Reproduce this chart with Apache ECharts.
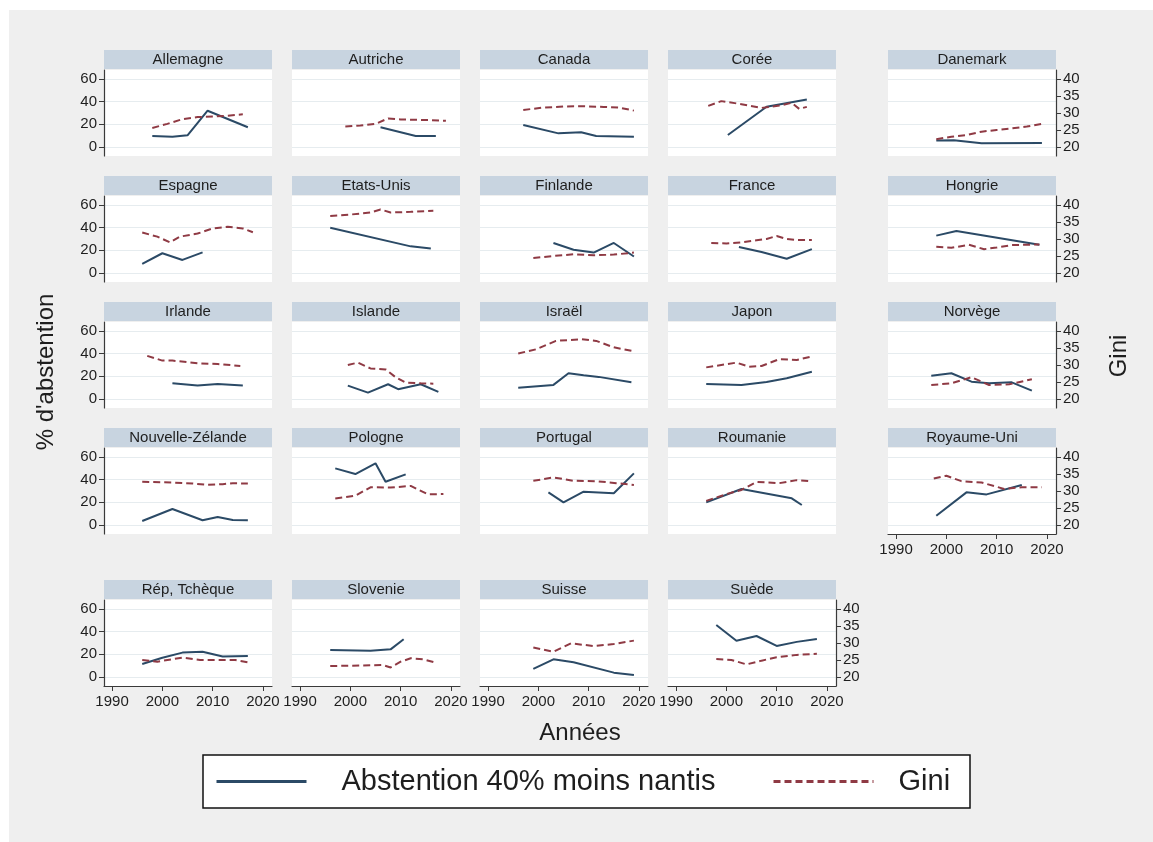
<!DOCTYPE html>
<html>
<head>
<meta charset="utf-8">
<script src="https://cdn.jsdelivr.net/npm/echarts@6/dist/echarts.min.js"></script>
<style>
html,body{margin:0;padding:0;background:#ffffff;}
#c{width:1153px;height:842px;}
</style>
</head>
<body>
<div id="c"></div>
<script>
// ---- Data ----
const countryNames = ['Allemagne','Autriche','Canada','Corée','Danemark',
  'Espagne','Etats-Unis','Finlande','France','Hongrie',
  'Irlande','Islande','Israël','Japon','Norvège',
  'Nouvelle-Zélande','Pologne','Portugal','Roumanie','Royaume-Uni',
  'Rép, Tchèque','Slovenie','Suisse','Suède'];

const abstAllemagne = [[1998,9.7],[2002,9.1],[2005,10.3],[2009,32],[2017,17.4]];
const giniAllemagne = [[1998,25.6],[2001,26.8],[2004,28.2],[2007,28.8],[2010,29.0],[2013,29.2],[2016,29.6]];
const abstAutriche = [[2006,17.4],[2013,9.7],[2017,9.7]];
const giniAutriche = [[1999,26],[2002,26.3],[2005,26.8],[2007.5,28.4],[2010,28.1],[2013,28],[2016,27.9],[2019,27.7]];
const abstCanada = [[1997,19.4],[2004,12],[2008.5,13],[2011.5,9.7],[2019,9]];
const giniCanada = [[1997,30.9],[2001,31.6],[2005,31.9],[2009,32.0],[2013,31.8],[2016,31.6],[2019,30.7]];
const abstCoree = [[2000.3,10.6],[2008,35.5],[2016,42]];
const giniCoree = [[1996.4,32.1],[1999,33.5],[2003,32.6],[2007,31.5],[2011,32.3],[2013,33],[2014.5,31.2],[2016,31.8]];
const abstDanemark = [[1998,5.6],[2001.5,6],[2007,3.3],[2019,3.5]];
const giniDanemark = [[1998,22.3],[2001,23],[2004,23.5],[2007,24.5],[2010,25],[2013,25.5],[2016,26],[2019,26.8]];

const abstEspagne = [[1996,8],[2000,17.4],[2004,11.5],[2008,18.2]];
const giniEspagne = [[1996,31.9],[1999,30.7],[2001.5,29],[2003.5,30.7],[2007,31.6],[2010,33.1],[2013,33.6],[2016,33.1],[2018,32]];
const abstEtatsUnis = [[1996,40],[2012,23.5],[2016,21.5]];
const giniEtatsUnis = [[1996,36.8],[2000,37.2],[2004,37.8],[2006,38.7],[2008,37.8],[2012,38],[2016.5,38.3]];
const abstFinlande = [[2003,26.5],[2007,20.5],[2011,18],[2015,26.5],[2019,14.5]];
const giniFinlande = [[1999,24.4],[2003,25],[2007,25.5],[2011,25.2],[2015,25.4],[2019,26]];
const abstFrance = [[2002.5,23],[2007,18.5],[2012,12.5],[2017,21]];
const giniFrance = [[1997,28.8],[2000,28.7],[2003,29],[2006,29.6],[2008,30],[2010,30.9],[2012,30],[2014,29.7],[2017,29.7]];
const abstHongrie = [[1998,33],[2002,37],[2018.5,25]];
const giniHongrie = [[1998,27.7],[2001,27.4],[2004.5,28.3],[2007.5,27],[2010,27.5],[2013,28.2],[2018.5,28.4]];

const abstIrlande = [[2002,13.8],[2007,11.8],[2011,13.2],[2016,11.8]];
const giniIrlande = [[1997,32.7],[2000,31.3],[2002,31.3],[2007,30.5],[2011,30.3],[2015.5,29.7]];
const abstIslande = [[1999.5,11.8],[2003.5,5.6],[2007.5,13],[2009.5,8.6],[2014,13],[2017.5,6.2]];
const giniIslande = [[1999.5,30],[2001.5,30.7],[2004,29],[2007,28.7],[2009,26.4],[2011,24.8],[2014,24.6],[2016.5,24.5]];
const abstIsrael = [[1996,10],[2003,12.4],[2006,22.7],[2009,21],[2012,19.5],[2018.5,14.7]];
const giniIsrael = [[1996,33.4],[1999.5,34.6],[2003.5,37.1],[2008.5,37.6],[2011.5,37.1],[2015,35.2],[2018.5,34.2]];
const abstJapon = [[1996,13.2],[2003,12.4],[2008,15],[2012,18.3],[2017,24.1]];
const giniJapon = [[1996,29.3],[2002,30.7],[2004.5,29.5],[2007,29.7],[2010.5,31.7],[2014,31.5],[2017,32.5]];
const abstNorvege = [[1997,20.6],[2001,22.7],[2005,15.3],[2008.5,13.8],[2013,14.7],[2017,7.3]];
const giniNorvege = [[1997,24.1],[2001,24.6],[2005,26.4],[2008.5,24.1],[2012.5,24.3],[2017,25.8]];

const abstNZ = [[1996,3.5],[2002,14.1],[2008,4.1],[2011,7.1],[2014,4.4],[2017,4.1]];
const giniNZ = [[1996,32.7],[2002,32.5],[2006,32.2],[2009,31.8],[2012,32],[2014,32.3],[2017,32.2]];
const abstPologne = [[1997,50],[2001,45],[2005,54.5],[2007,38.2],[2011,44.7]];
const giniPologne = [[1997,27.8],[2001,28.6],[2004,31.1],[2008,31],[2012,31.5],[2015.5,29],[2018.5,29.1]];
const abstPortugal = [[2002,28.8],[2005,20],[2009,29.4],[2015,28],[2019,45.6]];
const giniPortugal = [[1999,33],[2003,34],[2007,33],[2011.5,32.9],[2015.5,32.3],[2019,31.8]];
const abstRoumanie = [[1996,20],[2003,31.8],[2013,23.5],[2015,17.6]];
const giniRoumanie = [[1996,27.1],[2000.5,29.3],[2003,30.3],[2006,32.7],[2010.5,32.3],[2014,33.2],[2016.5,32.9]];
const abstRoyaumeUni = [[1998,8.2],[2004,28.8],[2008,27],[2015,35.3]];
const giniRoyaumeUni = [[1997.5,33.7],[2000,34.5],[2003,32.9],[2007,32.5],[2011.5,30.6],[2015,31.1],[2019,31.1]];

const abstTcheque = [[1996,11.5],[2000,17],[2004,21.5],[2008,22.3],[2012,18],[2017,18.5]];
const giniTcheque = [[1996,25],[1999,24.5],[2004,25.7],[2007.5,25],[2012,25],[2014.5,25],[2017,24.3]];
const abstSlovenie = [[1996,23.8],[2004,23.2],[2008,24.4],[2010.6,33.3]];
const giniSlovenie = [[1996,23.2],[2002.5,23.4],[2006.5,23.5],[2008,22.8],[2010,24.5],[2012,25.5],[2014.5,25.2],[2017,24.2]];
const abstSuisse = [[1999,7.1],[2003,15.6],[2007,13],[2015,3.8],[2019,1.8]];
const giniSuisse = [[1999,28.7],[2003,27.4],[2006.5,29.9],[2011,29.1],[2015,29.7],[2019,30.7]];
const abstSuede = [[1998,45.9],[2002,32],[2006,36.2],[2010,27.4],[2014,31],[2018,33.5]];
const giniSuede = [[1998,25.3],[2001,25],[2004,23.7],[2007,24.8],[2010,25.8],[2014,26.5],[2018,26.8]];

const abstentionSeries = [abstAllemagne,abstAutriche,abstCanada,abstCoree,abstDanemark,
  abstEspagne,abstEtatsUnis,abstFinlande,abstFrance,abstHongrie,
  abstIrlande,abstIslande,abstIsrael,abstJapon,abstNorvege,
  abstNZ,abstPologne,abstPortugal,abstRoumanie,abstRoyaumeUni,
  abstTcheque,abstSlovenie,abstSuisse,abstSuede];
const giniSeries = [giniAllemagne,giniAutriche,giniCanada,giniCoree,giniDanemark,
  giniEspagne,giniEtatsUnis,giniFinlande,giniFrance,giniHongrie,
  giniIrlande,giniIslande,giniIsrael,giniJapon,giniNorvege,
  giniNZ,giniPologne,giniPortugal,giniRoumanie,giniRoyaumeUni,
  giniTcheque,giniSlovenie,giniSuisse,giniSuede];

const xTicks = [1990,2000,2010,2020];
const leftTicks = [0,20,40,60];
const rightTicks = [20,25,30,35,40];
const seriesNames = ['Abstention 40% moins nantis','Gini'];

// ---- Layout & style ----
const FONT = 'Arial, "Liberation Sans", sans-serif';
const COLX = [104,292,480,668,888];
const ROWTOP = [70,196,322,448,600];
const PW = 168, PH = 86;
const LEFT_MIN = -8, LEFT_MAX = 68;
const RIGHT_MIN = 20 + LEFT_MIN/3, RIGHT_MAX = 20 + LEFT_MAX/3;
const BLUE = '#2b4a66', RED = '#8f3a44', AXIS = '#3a3a3a', TXT = '#1e1e1e';
const plain = v => String(v);

const grids = [], xAxes = [], yAxes = [], series = [], graphics = [];

graphics.push({type:'rect', z:-10, shape:{x:9,y:10,width:1144,height:832}, style:{fill:'#efefef'}});

countryNames.forEach((name, i) => {
  const row = Math.floor(i/5), col = i%5;
  const showLeft = col === 0;
  const showRight = col === 4 || i === countryNames.length-1;
  const showX = row === 4 || (row === 3 && col === 4);
  const left = COLX[col], top = ROWTOP[row];
  grids.push({left:left, top:top, width:PW, height:PH, show:true, backgroundColor:'#ffffff', borderWidth:0});
  xAxes.push({gridIndex:i, type:'value', min:1988.4, max:2021.8,
    axisLine:{show:showX, onZero:false, lineStyle:{color:AXIS, width:1.2}},
    axisTick:{show:showX, customValues:xTicks, length:5, lineStyle:{color:AXIS}},
    axisLabel:{show:showX, customValues:xTicks, formatter:plain, fontSize:15, color:TXT, fontFamily:FONT, margin:8},
    splitLine:{show:false}});
  yAxes.push({gridIndex:i, type:'value', position:'left', min:LEFT_MIN, max:LEFT_MAX,
    axisLine:{show:showLeft, onZero:false, lineStyle:{color:AXIS, width:1.2}},
    axisTick:{show:showLeft, customValues:leftTicks, length:5, lineStyle:{color:AXIS}},
    axisLabel:{show:showLeft, customValues:leftTicks, formatter:plain, fontSize:15, color:TXT, fontFamily:FONT, margin:7},
    splitLine:{show:true, lineStyle:{color:'#e6ecef', width:1.2}}});
  yAxes.push({gridIndex:i, type:'value', position:'right', min:RIGHT_MIN, max:RIGHT_MAX,
    axisLine:{show:showRight, onZero:false, lineStyle:{color:AXIS, width:1.2}},
    axisTick:{show:showRight, customValues:rightTicks, length:5, lineStyle:{color:AXIS}},
    axisLabel:{show:showRight, customValues:rightTicks, formatter:plain, fontSize:15, color:TXT, fontFamily:FONT, margin:7},
    splitLine:{show:false}});
  series.push({name:seriesNames[0], type:'line', xAxisIndex:i, yAxisIndex:2*i,
    data:abstentionSeries[i], symbol:'none', showSymbol:false, silent:true, animation:false,
    lineStyle:{color:BLUE, width:2}, itemStyle:{color:BLUE}, z:3});
  series.push({name:seriesNames[1], type:'line', xAxisIndex:i, yAxisIndex:2*i+1,
    data:giniSeries[i], symbol:'none', showSymbol:false, silent:true, animation:false,
    lineStyle:{color:RED, width:2, type:[7,4]}, itemStyle:{color:RED}, z:4});
  graphics.push({type:'rect', z:5, shape:{x:left, y:top-20, width:PW, height:19}, style:{fill:'#c8d4e0'}});
  graphics.push({type:'text', z:6, x:left+PW/2, y:top-10.5,
    style:{text:name, fill:TXT, font:'15px ' + FONT, align:'center', verticalAlign:'middle'}});
});

// Axis titles
graphics.push({type:'text', z:6, x:46, y:372, rotation:Math.PI/2,
  style:{text:"% d'abstention", fill:TXT, font:'24px ' + FONT, align:'center', verticalAlign:'middle'}});
graphics.push({type:'text', z:6, x:1119, y:356, rotation:Math.PI/2,
  style:{text:'Gini', fill:TXT, font:'24px ' + FONT, align:'center', verticalAlign:'middle'}});
graphics.push({type:'text', z:6, x:580, y:733,
  style:{text:'Années', fill:TXT, font:'24px ' + FONT, align:'center', verticalAlign:'middle'}});
// Legend frame
graphics.push({type:'rect', z:-5, shape:{x:203,y:755,width:767,height:53}, style:{fill:'#ffffff', stroke:'#111111', lineWidth:1.5}});

const option = {
  backgroundColor:'#ffffff',
  animation:false,
  grid:grids, xAxis:xAxes, yAxis:yAxes, series:series,
  graphic:{elements:graphics},
  legend:[
    {data:[{name:seriesNames[0], lineStyle:{width:3}, itemStyle:{opacity:0}}], left:215, top:767, padding:0, itemWidth:90, itemHeight:28,
      selectedMode:false, textStyle:{fontSize:29, color:TXT, fontFamily:FONT, padding:[0,0,0,30]}},
    {data:[{name:seriesNames[1], lineStyle:{width:3}, itemStyle:{opacity:0}}], left:772, top:767, padding:0, itemWidth:100, itemHeight:28,
      selectedMode:false, textStyle:{fontSize:29, color:TXT, fontFamily:FONT, padding:[0,0,0,20]}}
  ]
};
const chart = echarts.init(document.getElementById('c'), null, {renderer:'canvas'});
chart.setOption(option);
</script>
</body>
</html>
